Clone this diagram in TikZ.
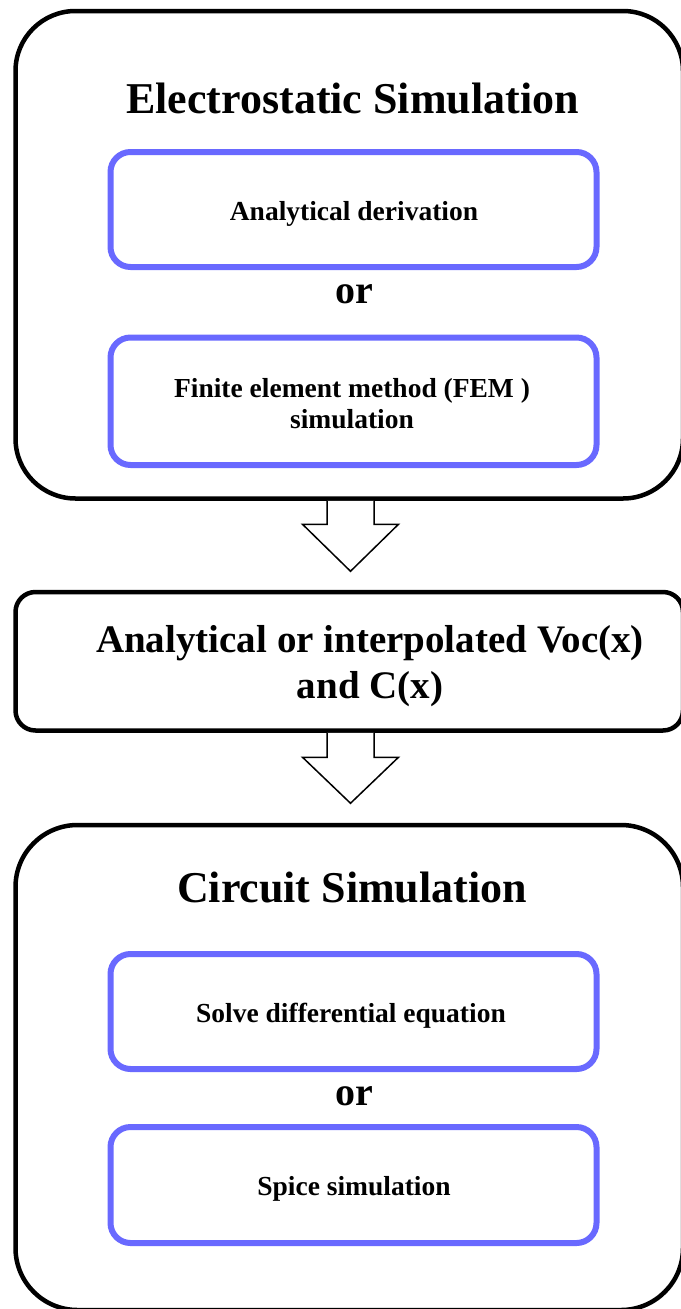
\documentclass[tikz,border=0pt]{standalone}
\usepackage{fontspec}
\setmainfont{Liberation Serif}
\usetikzlibrary{calc}
\definecolor{boxblue}{RGB}{105,105,255}
\tikzset{
  stage/.style={draw=black, line width=4.5pt, rounded corners=#1, inner sep=0pt},
  option/.style={draw=boxblue, line width=6pt, rounded corners=20pt, inner sep=0pt,
    minimum width=486pt},
  heading/.style={inner sep=0pt, anchor=base, font=\bfseries\fontsize{44}{50}\selectfont},
  joiner/.style={inner sep=0pt, anchor=base, font=\bfseries\fontsize{40}{46}\selectfont},
  optlabel/.style={inner sep=0pt, anchor=base, align=center,
    font=\bfseries\fontsize{27.5}{31}\selectfont},
  midlabel/.style={inner sep=0pt, anchor=base, align=center,
    font=\bfseries\fontsize{39}{46}\selectfont},
  flowarrow/.style={draw=black, line width=1.5pt, line join=miter, fill=white}
}
\begin{document}
\begin{tikzpicture}[x=1pt, y=-1pt]
  \useasboundingbox (0,0) rectangle (680,1309);

  % electrostatic stage
  \node[stage=60pt, minimum width=667.5pt, minimum height=487.5pt] (esim) at (349.25,254.75) {};
  \node[heading] (etitle) at (352.5,113) {Electrostatic Simulation};
  \node[option, minimum height=115pt] (analytic) at (353.5,209.5) {};
  \node[optlabel] (analyticT) at (354,220) {Analytical derivation};
  \node[joiner] (or1) at (354.5,303) {or};
  \node[option, minimum height=127.5pt] (fem) at (353.5,401.25) {};
  % multi-line labels are anchored at the baseline of their last line
  \node[optlabel] (femT) at (352,428) {Finite element method (FEM )\\simulation};

  % intermediate result
  \node[stage=20pt, minimum width=667.5pt, minimum height=138.5pt] (vc) at (349.25,661.25) {};
  \node[midlabel] (vcT) at (370,698) {Analytical or interpolated Voc(x)\\and C(x)};

  % circuit stage
  \node[stage=62pt, minimum width=667.5pt, minimum height=485pt] (csim) at (349.25,1067.5) {};
  \node[heading] (ctitle) at (352,902) {Circuit Simulation};
  \node[option, minimum height=115pt] (ode) at (353.5,1011.5) {};
  \node[optlabel] (odeT) at (351,1022) {Solve differential equation};
  \node[joiner] (or2) at (354.5,1105) {or};
  \node[option, minimum height=116pt] (spice) at (353.5,1185) {};
  \node[optlabel] (spiceT) at (354,1195) {Spice simulation};

  % hollow block arrows between the stages
  \coordinate (a1) at ($(esim.south)+(1.25,0)$);
  \draw[flowarrow] ($(a1)+(-23.5,0)$) -- ++(0,23.5) -- ++(-24.5,0)
    -- ($(a1)+(0,70.5)$) -- ($(a1)+(48,23.5)$) -- ++(-24.5,0) -- ++(0,-23.5);
  \coordinate (a2) at ($(vc.south)+(1.25,0)$);
  \draw[flowarrow] ($(a2)+(-23.5,0)$) -- ++(0,24.5) -- ++(-24.5,0)
    -- ($(a2)+(0,70.5)$) -- ($(a2)+(48,24.5)$) -- ++(-24.5,0) -- ++(0,-24.5);
\end{tikzpicture}
\end{document}
